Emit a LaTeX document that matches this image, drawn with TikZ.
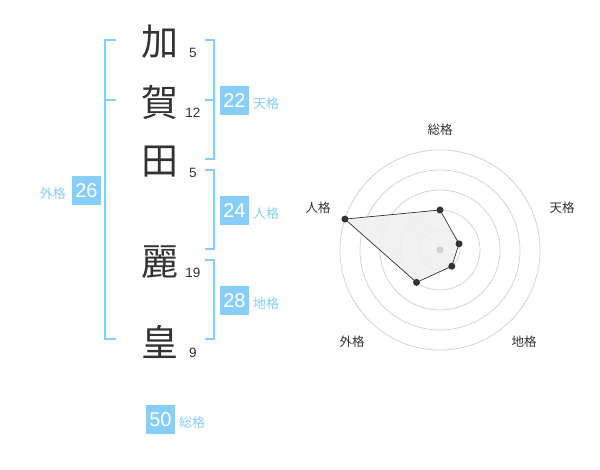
\documentclass[tikz,border=0pt]{standalone}
\usepackage{fontspec}
\setmainfont{Liberation Sans}
\newfontfamily\cjk{Noto Sans CJK JP}
\definecolor{sky}{HTML}{87CEFA}
\definecolor{ink}{HTML}{333333}
\definecolor{ringc}{HTML}{D0D0D0}
\definecolor{areac}{HTML}{EFEFEF}
\begin{document}
\begin{tikzpicture}[x=1pt,y=-1pt,
  bigchar/.style={font=\cjk\fontsize{37}{37}\selectfont, text=ink, inner sep=0pt},
  strokes/.style={font=\fontsize{13.5}{14}\selectfont, text=ink, inner sep=0pt},
  numbox/.style={fill=sky, text=white, font=\fontsize{20}{20}\selectfont, minimum size=29pt, inner sep=0pt},
  kaku/.style={text=sky, font=\cjk\fontsize{13}{13}\selectfont, inner sep=0pt},
  bracket/.style={draw=sky, line width=2pt},
  ring/.style={draw=ringc, line width=0.7pt},
  axislabel/.style={text=ink, font=\cjk\fontsize{12.5}{13}\selectfont, inner sep=0pt},
  dot/.style={circle, fill=ink, inner sep=0pt, minimum size=7pt}
]
\useasboundingbox[fill=white] (0,0) rectangle (600,470);
% name characters
\node[bigchar] (c1) at (160,42) {加};
\node[bigchar] (c2) at (160,102) {賀};
\node[bigchar] (c3) at (160,162) {田};
\node[bigchar] (c4) at (160,262) {麗};
\node[bigchar] (c5) at (160,342) {皇};
% stroke counts
\node[strokes] (n1) at (193,52.5) {5};
\node[strokes] (n2) at (193,112.5) {12};
\node[strokes] (n3) at (193,172.5) {5};
\node[strokes] (n4) at (193,272.5) {19};
\node[strokes] (n5) at (193,352.5) {9};
% brackets
\draw[bracket] (116,40) -- (105,40) -- (105,339) -- (116,339);
\draw[bracket] (105,100) -- (116,100);
\draw[bracket] (205,40) -- (214,40) -- (214,159) -- (205,159);
\draw[bracket] (205,100) -- (214,100);
\draw[bracket] (205,170) -- (214,170) -- (214,249) -- (205,249);
\draw[bracket] (205,260) -- (214,260) -- (214,339) -- (205,339);
% boxes and labels
\node[numbox] (b1) at (234.5,100.5) {22};
\node[kaku, anchor=west] (l1) at (253,104) {天格};
\node[numbox] (b2) at (234.5,210.5) {24};
\node[kaku, anchor=west] (l2) at (253,214) {人格};
\node[numbox] (b3) at (234.5,300.5) {28};
\node[kaku, anchor=west] (l3) at (253,304) {地格};
\node[numbox] (b4) at (86.5,190.5) {26};
\node[kaku, anchor=east] (l4) at (66,193.5) {外格};
\node[numbox] (b5) at (160.5,419.5) {50};
\node[kaku, anchor=west] (l5) at (179,422.5) {総格};
% radar chart
\coordinate (o) at (440,250);
\foreach \r in {20,40,60,80,100} \draw[ring] (o) circle[radius=\r pt];
\coordinate (p1) at (440,210);
\coordinate (p2) at (459.0,243.8);
\coordinate (p3) at (451.8,266.2);
\coordinate (p4) at (416.5,282.4);
\coordinate (p5) at (344.9,219.1);
\filldraw[fill=areac, fill opacity=0.85, draw=ink, line width=0.7pt] (p1) -- (p2) -- (p3) -- (p4) -- (p5) -- cycle;
\fill[ringc] (o) circle[radius=3.5pt];
\foreach \p in {p1,p2,p3,p4,p5} \node[dot] at (\p) {};
\node[axislabel] (a1) at (440,130) {総格};
\node[axislabel] (a2) at (562,208) {天格};
\node[axislabel] (a3) at (524,342) {地格};
\node[axislabel] (a4) at (352,342) {外格};
\node[axislabel] (a5) at (318,208) {人格};
\end{tikzpicture}
\end{document}
